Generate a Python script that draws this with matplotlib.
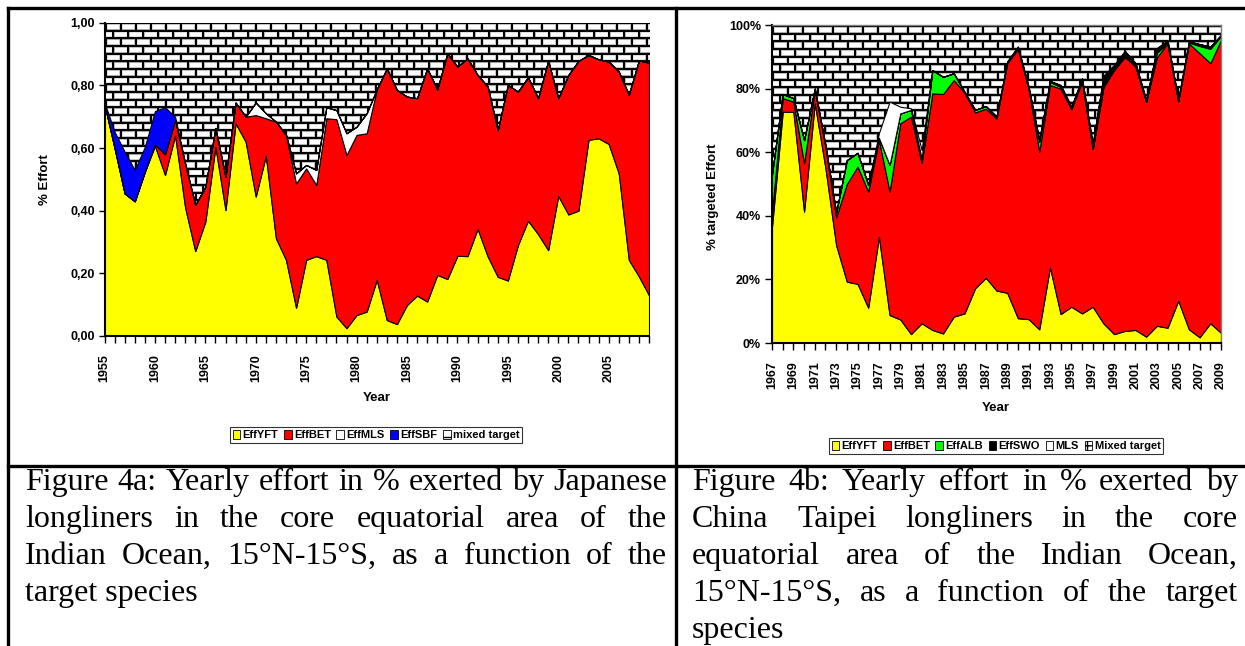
import numpy as np
import matplotlib
matplotlib.use("Agg")
import matplotlib.pyplot as plt
from matplotlib.patches import Patch
from matplotlib.lines import Line2D

W, H = 1245, 646

# ---- Figure 4a : Japanese longliners (share of effort) ----
years_a = list(range(1955, 2010))
yft_a = [0.74, 0.60, 0.455, 0.43, 0.525, 0.607, 0.514, 0.64, 0.41, 0.271,
         0.365, 0.604, 0.402, 0.679, 0.62, 0.445, 0.575, 0.312, 0.243, 0.09,
         0.243, 0.255, 0.243, 0.062, 0.025, 0.067, 0.078, 0.179, 0.051, 0.038,
         0.099, 0.129, 0.11, 0.195, 0.182, 0.256, 0.255, 0.342, 0.254, 0.189,
         0.177, 0.29, 0.368, 0.325, 0.274, 0.447, 0.388, 0.40, 0.626, 0.631,
         0.613, 0.519, 0.243, 0.19, 0.13]
bet_a = [0.0, 0.0, 0.0, 0.0, 0.0, 0.005, 0.066, 0.05, 0.14, 0.147,
         0.111, 0.06, 0.106, 0.066, 0.08, 0.26, 0.12, 0.372, 0.399, 0.397,
         0.292, 0.227, 0.452, 0.63, 0.553, 0.575, 0.569, 0.608, 0.803, 0.747,
         0.665, 0.63, 0.744, 0.592, 0.72, 0.604, 0.631, 0.491, 0.542, 0.468,
         0.624, 0.49, 0.458, 0.434, 0.604, 0.312, 0.445, 0.478, 0.271, 0.252,
         0.263, 0.325, 0.527, 0.69, 0.742]
mls_a = [0, 0, 0, 0, 0, 0, 0, 0, 0, 0,
         0, 0, 0, 0, 0, 0.04, 0.016, 0, 0, 0.032,
         0.011, 0.048, 0.035, 0.029, 0.069, 0.026, 0.064, 0, 0, 0,
         0, 0, 0, 0, 0, 0, 0, 0, 0, 0,
         0, 0, 0, 0, 0, 0, 0, 0, 0, 0,
         0, 0, 0, 0, 0]
sbf_a = [0.005, 0.052, 0.133, 0.10, 0.079, 0.106, 0.15, 0.01, 0, 0,
         0, 0, 0, 0, 0, 0, 0, 0, 0, 0,
         0, 0, 0, 0, 0, 0, 0, 0, 0, 0,
         0, 0, 0, 0, 0, 0, 0, 0, 0, 0,
         0, 0, 0, 0, 0, 0, 0, 0, 0, 0,
         0, 0, 0, 0, 0]
labels_a = ["EffYFT", "EffBET", "EffMLS", "EffSBF", "mixed target"]

# ---- Figure 4b : China Taipei longliners ----
years_b = list(range(1967, 2010))
yft_b = [0.366, 0.727, 0.727, 0.413, 0.754, 0.55, 0.308, 0.193, 0.186, 0.111,
         0.334, 0.088, 0.074, 0.028, 0.062, 0.041, 0.03, 0.083, 0.093, 0.172,
         0.205, 0.165, 0.158, 0.078, 0.075, 0.043, 0.238, 0.091, 0.114, 0.093,
         0.114, 0.062, 0.028, 0.038, 0.041, 0.02, 0.054, 0.048, 0.133, 0.043,
         0.018, 0.062, 0.032]
bet_b = [0.044, 0.043, 0.032, 0.152, 0.041, 0.067, 0.087, 0.307, 0.369, 0.365,
         0.304, 0.388, 0.617, 0.684, 0.504, 0.744, 0.753, 0.744, 0.694, 0.553,
         0.532, 0.541, 0.722, 0.847, 0.725, 0.559, 0.573, 0.709, 0.621, 0.729,
         0.496, 0.743, 0.831, 0.862, 0.829, 0.738, 0.844, 0.894, 0.627, 0.899,
         0.893, 0.818, 0.921]
alb_b = [0.12, 0.013, 0.011, 0.073, 0.005, 0.003, 0.015, 0.075, 0.043, 0.021,
         0.007, 0.084, 0.031, 0.021, 0.014, 0.073, 0.054, 0.021, 0.003, 0.008,
         0.008, 0.006, 0.0, 0.0, 0.0, 0.03, 0.01, 0.005, 0.004, 0.004,
         0.0, 0.0, 0.0, 0.0, 0.0, 0.0, 0.015, 0.0, 0.0, 0.003,
         0.023, 0.045, 0.012]
swo_b = [0, 0, 0, 0, 0, 0, 0, 0, 0, 0,
         0, 0, 0, 0, 0, 0, 0, 0, 0, 0,
         0, 0, 0.005, 0.007, 0.006, 0.006, 0.003, 0.006, 0.004, 0.006,
         0.015, 0.035, 0.015, 0.018, 0.01, 0.006, 0.014, 0.009, 0.006, 0.003,
         0.006, 0.007, 0.004]
mls_b = [0, 0, 0, 0, 0, 0, 0, 0, 0, 0,
         0.015, 0.199, 0.021, 0.005, 0.027, 0, 0, 0, 0, 0,
         0, 0, 0, 0, 0, 0, 0, 0, 0, 0,
         0, 0, 0, 0, 0, 0, 0, 0, 0, 0,
         0, 0, 0]
labels_b = ["EffYFT", "EffBET", "EffALB", "EffSWO", "MLS", "Mixed target"]

caption_a = ["Figure 4a: Yearly effort in % exerted by Japanese",
             "longliners in the core equatorial area of the",
             "Indian Ocean, 15\u00b0N-15\u00b0S, as a function of the",
             "target species"]
caption_b = ["Figure 4b: Yearly effort in % exerted by",
             "China Taipei longliners in the core",
             "equatorial area of the Indian Ocean,",
             "15\u00b0N-15\u00b0S, as a function of the target",
             "species"]

YELLOW, RED, BLUE, GREEN = "#FFFF00", "#FF0000", "#0000FF", "#00FF00"

plt.rcParams["font.family"] = ["Liberation Sans", "DejaVu Sans"]
plt.rcParams["font.weight"] = "bold"


def brick_texture(w, h, px=15.0, py=7.67):
    # black mortar, white bricks with a grey rim (the "mixed target" fill)
    yy, xx = np.mgrid[0:h, 0:w] + 0.5
    row = np.floor(yy / py)
    fy = yy - row * py
    fx = np.mod(xx + (row % 2) * px / 2, px)
    dy = np.minimum(fy - 2.0, py - fy)
    dx = np.minimum(fx - 1.7, px - fx)
    d = np.minimum(dx, dy)
    val = np.where(d < 0, 0.0, np.clip(0.6 + 0.4 * d / 1.2, 0, 1))
    return np.dstack([val, val, val])


def px_rect(x0, y0, x1, y1):
    # pixel box (top-left origin) -> figure fraction rect
    return [x0 / W, 1 - y1 / H, (x1 - x0) / W, (y1 - y0) / H]


def add_bricks(ax, xlim):
    bb = ax.get_position()
    w = int(round(bb.width * W))
    h = int(round(bb.height * H))
    ax.imshow(brick_texture(w, h), extent=(xlim[0], xlim[1], 0, 1),
              aspect="auto", interpolation="nearest", zorder=0)


fig = plt.figure(figsize=(W / 100, H / 100), dpi=100)

# ---------- left chart ----------
ax1 = fig.add_axes(px_rect(104.5, 22.7, 649, 336))
add_bricks(ax1, (1955, 2009))
ax1.stackplot(years_a, yft_a, bet_a, mls_a, sbf_a,
              colors=[YELLOW, RED, "white", BLUE],
              edgecolor="black", linewidth=0.8, zorder=2)
ax1.set_xlim(1955, 2009)
ax1.set_ylim(0, 1)
ax1.set_xticks(years_a)
ax1.set_xticklabels([str(y) if (y - 1955) % 5 == 0 else "" for y in years_a],
                    rotation=90, fontsize=9, fontweight="bold")
ax1.set_yticks([0, 0.2, 0.4, 0.6, 0.8, 1.0])
ax1.set_yticklabels(["0,00", "0,20", "0,40", "0,60", "0,80", "1,00"],
                    fontsize=9, fontweight="bold")
ax1.tick_params(axis="x", length=5, width=1, pad=8, direction="out")
ax1.tick_params(axis="y", length=4, width=1, pad=3, direction="out")
for s in ["top", "right"]:
    ax1.spines[s].set_visible(False)
for s in ["left", "bottom"]:
    ax1.spines[s].set_linewidth(1.5)
    ax1.spines[s].set_zorder(5)
fig.text(45 / W, 1 - 180 / H, "% Effort", rotation=90, ha="center",
         va="center", fontsize=9.5, fontweight="bold")
fig.text(377 / W, 1 - 398 / H, "Year", ha="center", va="center",
         fontsize=9.5, fontweight="bold")

hand_a = [Patch(facecolor=c, edgecolor="black", linewidth=0.6)
          for c in [YELLOW, RED, "white", BLUE]]
hand_a.append(Patch(facecolor="white", edgecolor="black", linewidth=0.6, hatch="--"))
leg1 = fig.legend(hand_a, labels_a, loc="center", ncol=5,
                  bbox_to_anchor=(376 / W, 1 - 435 / H), frameon=True,
                  fancybox=False, edgecolor="black", fontsize=8,
                  handlelength=0.7, handleheight=0.9, handletextpad=0.2,
                  columnspacing=0.5, borderpad=0.25, borderaxespad=0)
leg1.get_frame().set_linewidth(0.8)
for t in leg1.get_texts():
    t.set_fontweight("bold")

# ---------- right chart ----------
ax2 = fig.add_axes(px_rect(772, 25, 1221, 343))
add_bricks(ax2, (1967, 2009))
ax2.stackplot(years_b, yft_b, bet_b, alb_b, swo_b, mls_b,
              colors=[YELLOW, RED, GREEN, "black", "white"],
              edgecolor="black", linewidth=0.8, zorder=2)
ax2.set_xlim(1967, 2009)
ax2.set_ylim(0, 1)
ax2.set_xticks(years_b)
ax2.set_xticklabels([str(y) if (y - 1967) % 2 == 0 else "" for y in years_b],
                    rotation=90, fontsize=9, fontweight="bold")
ax2.set_yticks([0, 0.2, 0.4, 0.6, 0.8, 1.0])
ax2.set_yticklabels(["0%", "20%", "40%", "60%", "80%", "100%"],
                    fontsize=9, fontweight="bold")
ax2.tick_params(axis="x", length=5, width=1, pad=8, direction="out")
ax2.tick_params(axis="y", length=5, width=1, pad=3, direction="out")
for s in ["top", "right"]:
    ax2.spines[s].set_color("#808080")
    ax2.spines[s].set_linewidth(1.0)
for s in ["left", "bottom"]:
    ax2.spines[s].set_linewidth(1.5)
for s in ax2.spines.values():
    s.set_zorder(5)
fig.text(713 / W, 1 - 197 / H, "% targeted Effort", rotation=90, ha="center",
         va="center", fontsize=9.5, fontweight="bold")
fig.text(996 / W, 1 - 408 / H, "Year", ha="center", va="center",
         fontsize=9.5, fontweight="bold")

hand_b = [Patch(facecolor=c, edgecolor="black", linewidth=0.6)
          for c in [YELLOW, RED, GREEN, "black", "white"]]
hand_b.append(Patch(facecolor="white", edgecolor="black", linewidth=0.6, hatch="++"))
leg2 = fig.legend(hand_b, labels_b, loc="center", ncol=6,
                  bbox_to_anchor=(996 / W, 1 - 446 / H), frameon=True,
                  fancybox=False, edgecolor="black", fontsize=8,
                  handlelength=0.7, handleheight=0.9, handletextpad=0.2,
                  columnspacing=0.5, borderpad=0.25, borderaxespad=0)
leg2.get_frame().set_linewidth(0.8)
for t in leg2.get_texts():
    t.set_fontweight("bold")

# ---------- table borders ----------
lw = 2.4
fig.add_artist(Line2D([8 / W, 1], [1 - 8 / H, 1 - 8 / H], color="black", lw=lw))
fig.add_artist(Line2D([8 / W, 1], [1 - 466 / H, 1 - 466 / H], color="black", lw=lw))
fig.add_artist(Line2D([8 / W, 8 / W], [1 - 8 / H, 0], color="black", lw=lw))
fig.add_artist(Line2D([676 / W, 676 / W], [1 - 8 / H, 0], color="black", lw=lw))


# ---------- justified captions ----------
def justified(lines, x0, x1, y0, step, size=23):
    r = fig.canvas.get_renderer()
    for i, line in enumerate(lines):
        y = 1 - (y0 + i * step) / H
        words = line.split()
        if i == len(lines) - 1:
            fig.text(x0 / W, y, line, fontsize=size, family="Liberation Serif",
                     fontweight="normal", va="baseline")
            continue
        objs = [fig.text(0, y, w, fontsize=size, family="Liberation Serif",
                         fontweight="normal", va="baseline") for w in words]
        widths = [o.get_window_extent(r).width for o in objs]
        gap = (x1 - x0 - sum(widths)) / (len(words) - 1)
        x = x0
        for o, wd in zip(objs, widths):
            o.set_x(x / W)
            x += wd + gap


justified(caption_a, 25, 667, 490, 37)
justified(caption_b, 692, 1238, 490, 37)

fig.savefig("out.png", dpi=100)
